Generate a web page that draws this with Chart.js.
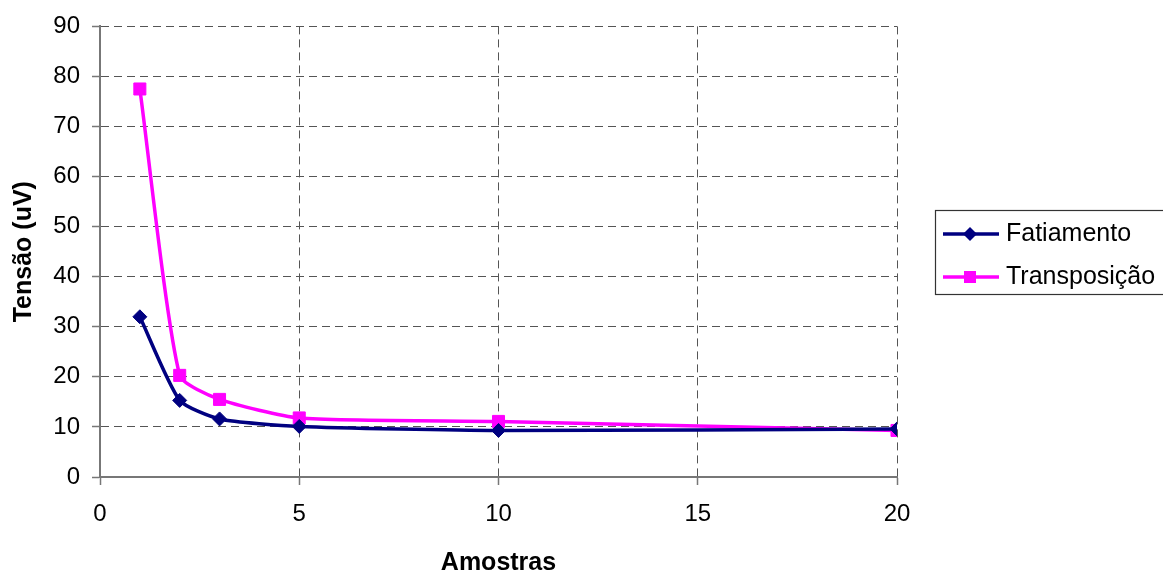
<!DOCTYPE html>
<html>
<head>
<meta charset="utf-8">
<script src="https://cdn.jsdelivr.net/npm/chart.js@4/dist/chart.umd.min.js"></script>
<style>
  html, body { margin: 0; padding: 0; background: #fff; }
  #wrap { width: 1163px; height: 571px; }
</style>
</head>
<body>
<div id="wrap"><canvas id="c" width="1163" height="571"></canvas></div>
<script>
// Number of samples (x) and measured voltage (uV) for each method
const samples = [1, 2, 3, 5, 10, 20];
const fatiamento = [32, 15.3, 11.6, 10.1, 9.3, 9.6];
const transposicao = [77.5, 20.3, 15.5, 11.8, 11.1, 9.3];
const xTickValues = [0, 5, 10, 15, 20];
const yTickValues = [0, 10, 20, 30, 40, 50, 60, 70, 80, 90];

const seriesNames = ['Fatiamento', 'Transposição'];
const seriesColors = ['#000080', '#FF00FF'];
const seriesMarkers = ['rectRot', 'rect'];

const FONT = '"Liberation Sans", Arial, sans-serif';

function toPoints(ys) {
  return samples.map((x, i) => ({ x: x, y: ys[i] }));
}

// Boxed legend on the right of the plot
const boxLegend = {
  id: 'boxLegend',
  afterDraw(chart) {
    const ctx = chart.ctx;
    const left = 935, top = 210, w = 240, h = 84;
    ctx.save();
    ctx.strokeStyle = '#333';
    ctx.lineWidth = 1.2;
    ctx.strokeRect(left + 0.5, top + 0.5, w, h);
    const rows = [234, 277];
    chart.data.datasets.forEach((ds, i) => {
      const y = rows[i];
      ctx.strokeStyle = ds.borderColor;
      ctx.lineWidth = 3.5;
      ctx.beginPath();
      ctx.moveTo(943, y);
      ctx.lineTo(999, y);
      ctx.stroke();
      ctx.fillStyle = ds.borderColor;
      const cx = 970;
      ctx.beginPath();
      if (ds.pointStyle === 'rectRot') {
        const r = 7;
        ctx.moveTo(cx, y - r); ctx.lineTo(cx + r, y); ctx.lineTo(cx, y + r); ctx.lineTo(cx - r, y);
        ctx.closePath();
      } else {
        ctx.rect(cx - 6, y - 6, 12, 12);
      }
      ctx.fill();
      ctx.fillStyle = '#000';
      ctx.font = '25px ' + FONT;
      ctx.textBaseline = 'middle';
      ctx.textAlign = 'left';
      ctx.fillText(ds.label, 1006, y);
    });
    ctx.restore();
  }
};

const datasets = [fatiamento, transposicao].map((vals, i) => ({
  label: seriesNames[i],
  data: toPoints(vals),
  borderColor: seriesColors[i],
  backgroundColor: seriesColors[i],
  borderWidth: 3.5,
  pointStyle: seriesMarkers[i],
  pointRadius: i === 0 ? 7 : 8.5,
  pointBorderWidth: 1,
  pointHoverRadius: 8,
  tension: 0.2,
  fill: false
}));

new Chart(document.getElementById('c'), {
  type: 'line',
  data: { datasets: datasets },
  plugins: [boxLegend],
  options: {
    responsive: false,
    animation: false,
    layout: { padding: { top: 26, right: 266, left: 0, bottom: 0 } },
    plugins: { legend: { display: false }, tooltip: { enabled: false } },
    scales: {
      x: {
        type: 'linear',
        min: 0, max: 20,
        afterFit(scale) { scale.height = 94; },
        afterBuildTicks(scale) { scale.ticks = xTickValues.map(v => ({ value: v })); },
        ticks: { font: { family: FONT, size: 24 }, color: '#000', padding: 15, maxRotation: 0 },
        grid: { color: '#555', lineWidth: 1, tickLength: 8, tickColor: '#777', tickWidth: 1.5 },
        border: { display: true, color: '#777', width: 2, dash: [8, 5] },
        title: {
          display: true, text: 'Amostras', color: '#000',
          font: { family: FONT, size: 25, weight: 'bold', lineHeight: 1 },
          padding: { top: 0, bottom: -5 }
        }
      },
      y: {
        type: 'linear',
        min: 0, max: 90,
        afterFit(scale) { scale.width = 100; },
        afterBuildTicks(scale) { scale.ticks = yTickValues.map(v => ({ value: v })); },
        ticks: { font: { family: FONT, size: 24 }, color: '#000', padding: 12 },
        grid: { color: '#555', lineWidth: 1, tickLength: 8, tickColor: '#777', tickWidth: 1.5 },
        border: { display: true, color: '#777', width: 2, dash: [8, 5] },
        title: {
          display: true, text: 'Tensão (uV)', color: '#000',
          font: { family: FONT, size: 25, weight: 'bold', lineHeight: 1 },
          padding: { top: 12, bottom: 0 }
        }
      }
    }
  }
});
</script>
</body>
</html>
